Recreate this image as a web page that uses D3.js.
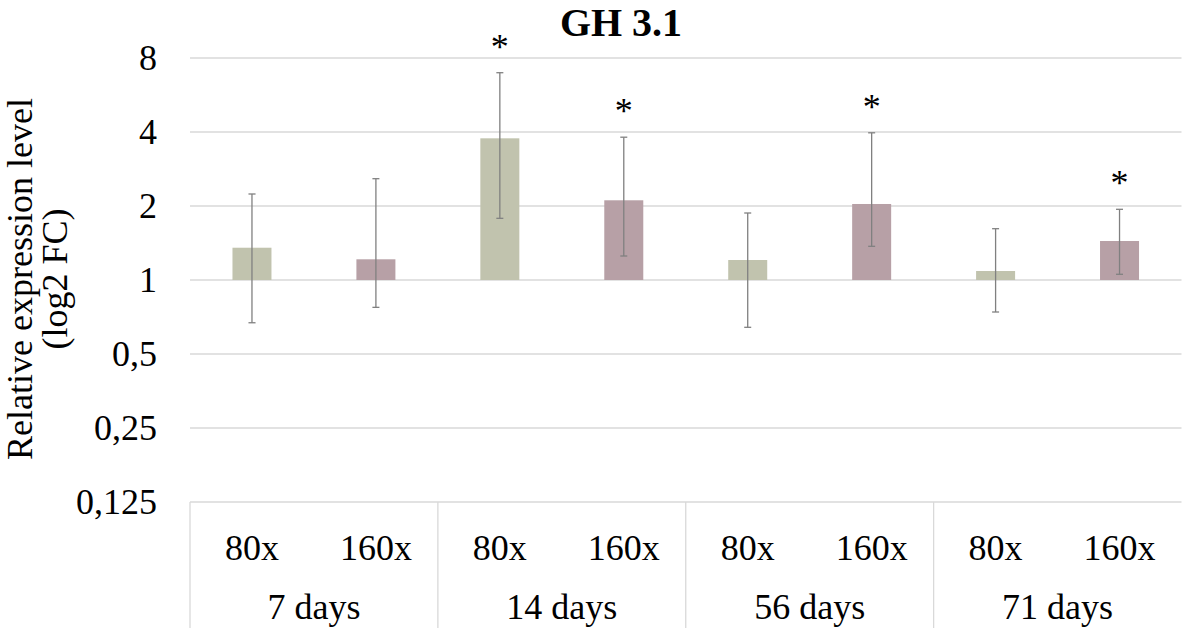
<!DOCTYPE html>
<html><head><meta charset="utf-8">
<script src="https://cdn.jsdelivr.net/npm/d3@7"></script>
<style>body{margin:0;background:#fff}svg{display:block}</style>
</head><body><svg id="c" width="1182" height="628"></svg>
<script>
const groups = ["7 days","14 days","56 days","71 days"];
const doses = ["80x","160x"];
const values = [1.353,1.214, 3.77,2.11, 1.206,2.038, 1.088,1.441];
const errHigh = [2.238,2.583, 6.97,3.81, 1.873,3.97, 1.617,1.939];
const errLow = [0.670,0.774, 1.782,1.252, 0.642,1.371, 0.741,1.055];
const significant = [false,false, true,true, false,true, false,true];
const yTicks = [0.125,0.25,0.5,1,2,4,8];
const yTickLabels = ["0,125","0,25","0,5","1","2","4","8"];
const colors = {"80x":"#c1c3ae","160x":"#b7a0a6"};

// pick an installed serif font
const candidates = ["Liberation Serif","Tinos","Times New Roman","Times","Nimbus Roman","Nimbus Roman No9 L","FreeSerif","DejaVu Serif","Noto Serif","Noto Serif CJK SC","Source Serif Pro","Georgia"];
const ctx = document.createElement("canvas").getContext("2d");
const probe = "Relative expression 0,125 mmmWWWiii";
function w(f){ctx.font = "40px " + f; return ctx.measureText(probe).width;}
const wm = w("monospace");
let chosen = null;
for (const c of candidates){ const a = w("'"+c+"', monospace"), b = w("'"+c+"', sans-serif"); if (Math.abs(a-b) < 0.01 && Math.abs(a-wm) > 0.5) { chosen = c; break; } }
const FONT = chosen ? "'" + chosen + "', serif" : "serif";
const scaleX = chosen ? 1 : 0.88;

const svg = d3.select("#c").attr("font-family", FONT);
const L = 190, R = 1181.5, T = 58, B = 502;
const y = d3.scaleLog().base(2).domain([0.125,8]).range([B,T]);
const xG = d3.scaleBand().domain(groups).range([L,R]).padding(0);
const xD = d3.scaleBand().domain(doses).range([0,xG.bandwidth()]).padding(0);
const bw = 39;

const rows = [];
groups.forEach((g,gi)=>doses.forEach((d,di)=>{const i=gi*2+di;rows.push({g,d,v:values[i],hi:errHigh[i],lo:errLow[i],s:significant[i]});}));
const cx = r => xG(r.g)+xD(r.d)+xD.bandwidth()/2;

function txt(sel, x, yy){ return sel.attr("transform", d => `translate(${x(d)},${yy(d)}) scale(${scaleX},1)`); }

// gridlines
svg.append("g").selectAll("line").data(yTicks).join("line")
  .attr("x1",L).attr("x2",R).attr("y1",d=>y(d)).attr("y2",d=>y(d))
  .attr("stroke","#d9d9d9").attr("stroke-width",1.3);

// y tick labels
txt(svg.append("g").selectAll("text").data(yTicks).join("text"), ()=>157, d=>y(d))
  .attr("dy","0.33em").attr("text-anchor","end")
  .attr("font-size",36).text((d,i)=>yTickLabels[i]);

// bars
svg.append("g").selectAll("rect").data(rows).join("rect")
  .attr("x",r=>cx(r)-bw/2).attr("width",bw)
  .attr("y",r=>Math.min(y(r.v),y(1))).attr("height",r=>Math.abs(y(1)-y(r.v)))
  .attr("fill",r=>colors[r.d]);

// error bars
const eb = svg.append("g").attr("stroke","#808080").attr("stroke-width",1.3);
rows.forEach(r=>{
  const x=cx(r);
  eb.append("line").attr("x1",x).attr("x2",x).attr("y1",y(r.hi)).attr("y2",y(r.lo));
  eb.append("line").attr("x1",x-3.5).attr("x2",x+3.5).attr("y1",y(r.hi)).attr("y2",y(r.hi));
  eb.append("line").attr("x1",x-3.5).attr("x2",x+3.5).attr("y1",y(r.lo)).attr("y2",y(r.lo));
});

// asterisks
txt(svg.append("g").selectAll("text").data(rows.filter(r=>r.s)).join("text"), r=>cx(r), r=>y(r.hi)-14)
  .attr("text-anchor","middle").attr("font-size",36).text("*");

// category axis box
const ax = svg.append("g").attr("stroke","#d9d9d9").attr("stroke-width",1.3);
groups.forEach(g=>{
  ax.append("line").attr("x1",xG(g)).attr("x2",xG(g)).attr("y1",B).attr("y2",628);
});
txt(svg.append("g").selectAll("text").data(rows).join("text"), r=>cx(r), ()=>560)
  .attr("text-anchor","middle").attr("font-size",36).text(r=>r.d);
txt(svg.append("g").selectAll("text").data(groups).join("text"), g=>xG(g)+xG.bandwidth()/2, ()=>619)
  .attr("text-anchor","middle").attr("font-size",36).text(g=>g);

// title
svg.append("text").attr("transform",`translate(621,36) scale(${scaleX},1)`).attr("text-anchor","middle")
  .attr("font-size",40).attr("font-weight","bold").text("GH 3.1");

// y axis label
const yl = svg.append("text").attr("transform",`translate(0,279) rotate(-90) scale(${scaleX},1)`).attr("text-anchor","middle").attr("font-size",36);
yl.append("tspan").attr("x",0).attr("y",32).text("Relative expression level");
yl.append("tspan").attr("x",0).attr("y",67).text("(log2 FC)");
</script></body></html>
